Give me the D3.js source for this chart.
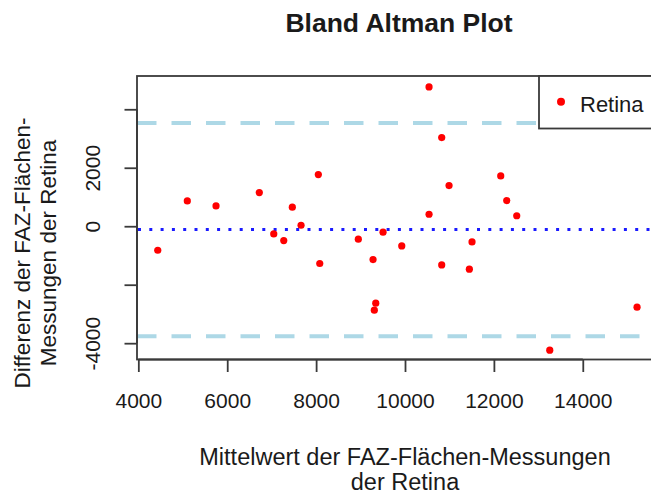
<!DOCTYPE html>
<html>
<head>
<meta charset="utf-8">
<script src="https://cdn.jsdelivr.net/npm/d3@7"></script>
<style>
  body { margin: 0; background: #fff; }
  text { font-family: "Liberation Sans", Arial, sans-serif; fill: #1a1a1a; }
</style>
</head>
<body>
<div id="chart"></div>
<script>
// mean of the two measurements (x) and their difference (y)
var meanValues = [10541, 10826, 8050, 12154, 10991, 6722, 5102, 12289, 5748, 7465,
                  10541, 12514, 7661, 7047, 7272, 4437, 8950, 9506, 9927, 11508,
                  8082, 9281, 10826, 11448, 9342, 9310, 15221, 13257];
var diffValues = [4763, 3033, 1768, 1720, 1392, 1152, 865, 879, 694, 650,
                  410, 359, 34, -263, -489, -821, -444, -205, -674, -537,
                  -1275, -1139, -1323, -1470, -2633, -2872, -2769, -4240];

var meanDiff = -114;
var upperLoA = 3532;
var lowerLoA = -3761;

var xTicks = [4000, 6000, 8000, 10000, 12000, 14000];
var yTicks = [-4000, -2000, 0, 2000, 4000];
var yTickLabels = ["-4000", "", "0", "2000", ""];

var seriesName = "Retina";
var title = "Bland Altman Plot";
var xLabel = ["Mittelwert der FAZ-Flächen-Messungen", "der Retina"];
var yLabel = ["Differenz der FAZ-Flächen-", "Messungen der Retina"];

var w = 651;
var h = 496;
var plotLeft = 137, plotRight = 661, plotTop = 76, plotBottom = 359.5;

var xScale = d3.scaleLinear()
               .domain([3970, 15760])
               .range([plotLeft, plotRight]);

var yScale = d3.scaleLinear()
               .domain([-4558, 5138])
               .range([plotBottom, plotTop]);

var svg = d3.select("#chart")
            .append("svg")
            .attr("width", w)
            .attr("height", h);

svg.append("defs")
   .append("clipPath")
   .attr("id", "plotclip")
   .append("rect")
   .attr("x", plotLeft)
   .attr("y", plotTop)
   .attr("width", plotRight - plotLeft)
   .attr("height", plotBottom - plotTop);

var plot = svg.append("g").attr("clip-path", "url(#plotclip)");

// limits of agreement
plot.selectAll("line.loa")
    .data([upperLoA, lowerLoA])
    .enter()
    .append("line")
    .attr("class", "loa")
    .attr("x1", plotLeft)
    .attr("x2", plotRight)
    .attr("y1", function(d) { return yScale(d); })
    .attr("y2", function(d) { return yScale(d); })
    .attr("stroke", "#add8e6")
    .attr("stroke-width", 4)
    .attr("stroke-dasharray", "19.5,15");

// mean difference
plot.append("line")
    .attr("x1", plotLeft + 1)
    .attr("x2", plotRight)
    .attr("y1", yScale(meanDiff))
    .attr("y2", yScale(meanDiff))
    .attr("stroke", "#1a1aff")
    .attr("stroke-width", 3)
    .attr("stroke-dasharray", "3,8.3");

plot.selectAll("circle")
    .data(meanValues)
    .enter()
    .append("circle")
    .attr("cx", function(d) { return xScale(d); })
    .attr("cy", function(d, i) { return yScale(diffValues[i]); })
    .attr("r", 3.6)
    .attr("fill", "#ff0000");

// box
svg.append("rect")
   .attr("x", plotLeft)
   .attr("y", plotTop)
   .attr("width", plotRight - plotLeft)
   .attr("height", plotBottom - plotTop)
   .attr("fill", "none")
   .attr("stroke", "#3a3a3a")
   .attr("stroke-width", 1.8);

var xAxis = d3.axisBottom(xScale)
              .tickValues(xTicks)
              .tickSize(12.5)
              .tickFormat(d3.format("d"));

var gx = svg.append("g")
            .attr("transform", "translate(0," + plotBottom + ")")
            .call(xAxis);
gx.select(".domain")
  .attr("d", "M" + xScale(xTicks[0]) + ",0H" + xScale(xTicks[xTicks.length - 1]))
  .attr("stroke", "#3a3a3a")
  .attr("stroke-width", 1.8);
gx.selectAll(".tick line").attr("stroke", "#3a3a3a").attr("stroke-width", 1.8);
gx.selectAll(".tick text")
  .attr("y", 48.5)
  .attr("dy", 0)
  .attr("font-size", 21)
  .attr("font-family", "Liberation Sans, Arial, sans-serif")
  .attr("fill", "#1a1a1a");

var yAxis = d3.axisLeft(yScale)
              .tickValues(yTicks)
              .tickSize(12.5)
              .tickFormat(function(d, i) { return yTickLabels[i]; });

var gy = svg.append("g")
            .attr("transform", "translate(" + plotLeft + ",0)")
            .call(yAxis);
gy.select(".domain")
  .attr("d", "M0," + yScale(yTicks[0]) + "V" + yScale(yTicks[yTicks.length - 1]))
  .attr("stroke", "#3a3a3a")
  .attr("stroke-width", 1.8);
gy.selectAll(".tick line").attr("stroke", "#3a3a3a").attr("stroke-width", 1.8);
gy.selectAll(".tick text")
  .attr("x", 0)
  .attr("dy", 0)
  .attr("transform", "translate(-37,0) rotate(-90)")
  .attr("text-anchor", "middle")
  .attr("font-size", 21)
  .attr("font-family", "Liberation Sans, Arial, sans-serif")
  .attr("fill", "#1a1a1a");

// legend
var legend = svg.append("g");
legend.append("rect")
      .attr("x", 539)
      .attr("y", plotTop)
      .attr("width", plotRight - 539)
      .attr("height", 52.5)
      .attr("fill", "#fff")
      .attr("stroke", "#3a3a3a")
      .attr("stroke-width", 1.8);
legend.append("circle")
      .attr("cx", 561)
      .attr("cy", 101.7)
      .attr("r", 4)
      .attr("fill", "#ff0000");
legend.append("text")
      .attr("x", 580)
      .attr("y", 111.5)
      .attr("font-size", 22)
      .text(seriesName);

// title and axis labels
svg.append("text")
   .attr("x", 399)
   .attr("y", 32.3)
   .attr("text-anchor", "middle")
   .attr("font-size", 26.5)
   .attr("font-weight", "bold")
   .text(title);

svg.selectAll("text.xlab")
   .data(xLabel)
   .enter()
   .append("text")
   .attr("class", "xlab")
   .attr("x", 405)
   .attr("y", function(d, i) { return 465.3 + i * 25; })
   .attr("text-anchor", "middle")
   .attr("font-size", 23.5)
   .text(function(d) { return d; });

svg.selectAll("text.ylab")
   .data(yLabel)
   .enter()
   .append("text")
   .attr("class", "ylab")
   .attr("transform", function(d, i) {
     return "translate(" + (29.5 + i * 26.5) + ",253) rotate(-90)";
   })
   .attr("text-anchor", "middle")
   .attr("font-size", 22.5)
   .text(function(d) { return d; });
</script>
</body>
</html>
